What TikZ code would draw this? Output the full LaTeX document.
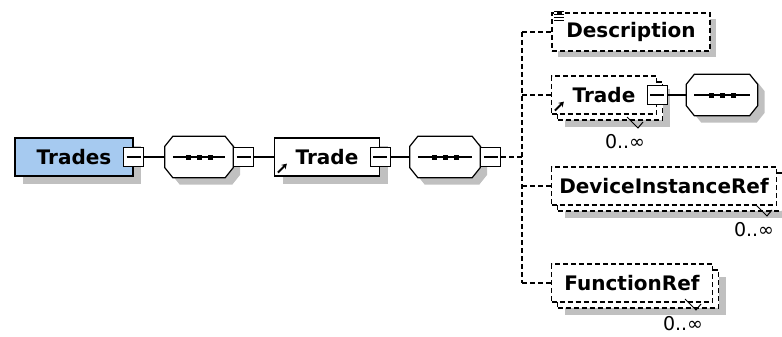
\documentclass[tikz,border=0pt]{standalone}
\usepackage{fontspec}
\setmainfont{DejaVu Sans}
\usetikzlibrary{shadows,arrows.meta}
\definecolor{rootblue}{RGB}{166,202,240}
\definecolor{shade}{RGB}{192,192,192}
\tikzset{
  el/.style={draw, line width=1.2pt, fill=white, minimum height=38pt, inner sep=0pt,
    font=\fontsize{20}{23}\selectfont\bfseries},
  solidel/.style={el, general shadow={fill=shade, shadow xshift=8pt, shadow yshift=-8pt}},
  optel/.style={el, dash pattern=on 5pt off 3pt,
    general shadow={fill=shade, shadow xshift=6pt, shadow yshift=-6pt}},
  manyel/.style={el, dash pattern=on 5pt off 3pt,
    general shadow={fill=shade, shadow xshift=13pt, shadow yshift=-13pt},
    general shadow={fill=white, draw=black, line width=1.2pt, dash pattern=on 5pt off 3pt,
      shadow xshift=6pt, shadow yshift=-6pt}},
  seq/.style={minimum width=68pt, minimum height=41pt, inner sep=0pt},
  octo/.style={draw, line width=1.2pt, fill=white,
    general shadow={fill=shade, shadow xshift=7pt, shadow yshift=-7pt}},
  pm/.style={draw, line width=1.2pt, fill=white, minimum width=20pt, minimum height=19pt, inner sep=0pt,
    path picture={\draw[line width=1.2pt] ([xshift=3pt]path picture bounding box.west) -- ([xshift=-3pt]path picture bounding box.east);}},
  mult/.style={font=\fontsize{19}{21}\selectfont, inner sep=0pt},
  link/.style={line width=1.2pt},
  optlink/.style={line width=1.2pt, dash pattern=on 5pt off 3pt}
}
\begin{document}
\begin{tikzpicture}[x=1pt, y=-1pt]
\useasboundingbox (0,0) rectangle (782,337);
% sequence compositors
\node[seq] (seq1) at (199,157) {};
\node[seq, minimum width=70pt] (seq2) at (445,157) {};
\node[seq, minimum width=71pt] (seq3) at (722,95) {};
\foreach \n in {seq1,seq2,seq3} {
  \draw[octo] ([xshift=8pt]\n.north west) -- ([xshift=-8pt]\n.north east) -- ([yshift=-10pt]\n.north east)
    -- ([yshift=10pt]\n.south east) -- ([xshift=-8pt]\n.south east) -- ([xshift=8pt]\n.south west)
    -- ([yshift=10pt]\n.south west) -- ([yshift=-10pt]\n.north west) -- cycle;
  \draw[line width=1.2pt] ([xshift=8pt]\n.west) -- ([xshift=-8pt]\n.east);
  \foreach \d in {-11,0,11} \fill ([xshift=\d pt]\n.center) +(-2.5pt,-2.5pt) rectangle +(2.5pt,2.5pt);
}
% main chain
\node[solidel, fill=rootblue, minimum width=118pt] (trades) at (74,157) {Trades};
\node[pm] (trades-pm) at (trades.east) {};
\node[pm, anchor=west] (seq1-pm) at (seq1.east) {};
\node[solidel, minimum width=105pt] (trade) at (327,157) {Trade};
\node[pm] (trade-pm) at (trade.east) {};
\node[pm, anchor=west] (seq2-pm) at (seq2.east) {};
\coordinate (fork) at (522,157);
% children
\node[optel, minimum width=158pt] (desc) at (631,32) {Description};
\node[manyel, minimum width=105pt] (subtrade) at (604,95) {Trade};
\node[pm] (subtrade-pm) at (subtrade.east) {};
\node[manyel, minimum width=225pt] (devref) at (664,186) {DeviceInstanceRef};
\node[manyel, minimum width=161pt] (funcref) at (632,283) {FunctionRef};
\node[mult] (subtrade-mult) at (625,142) {0..∞};
\node[mult] (devref-mult) at (754,230) {0..∞};
\node[mult] (funcref-mult) at (683,324) {0..∞};
% connectors
\draw[link] (trades-pm) -- (seq1) (seq1-pm) -- (trade) (trade-pm) -- (seq2) (subtrade-pm) -- (seq3);
\draw[optlink] (seq2-pm) -- (fork) (fork |- desc.west) -- (fork |- funcref.west);
\foreach \n in {desc,subtrade,devref,funcref} \draw[optlink] (fork |- \n.west) -- (\n.west);
% icons
\foreach \k in {0,...,3} \draw[line width=1pt] (desc.north west) ++(3,{-1+3*\k}) -- ++(10,0);
\foreach \n in {trade,subtrade} \draw[line width=2pt, -{Stealth[length=5pt,width=6pt]}] (\n.south west) ++(4,-4) -- ++(9,-9);
\foreach \n in {subtrade,devref,funcref} \draw[line width=1pt] (\n-mult) ++(2,-25) -- ++(11,11) -- ++(5,-6);
\end{tikzpicture}
\end{document}
